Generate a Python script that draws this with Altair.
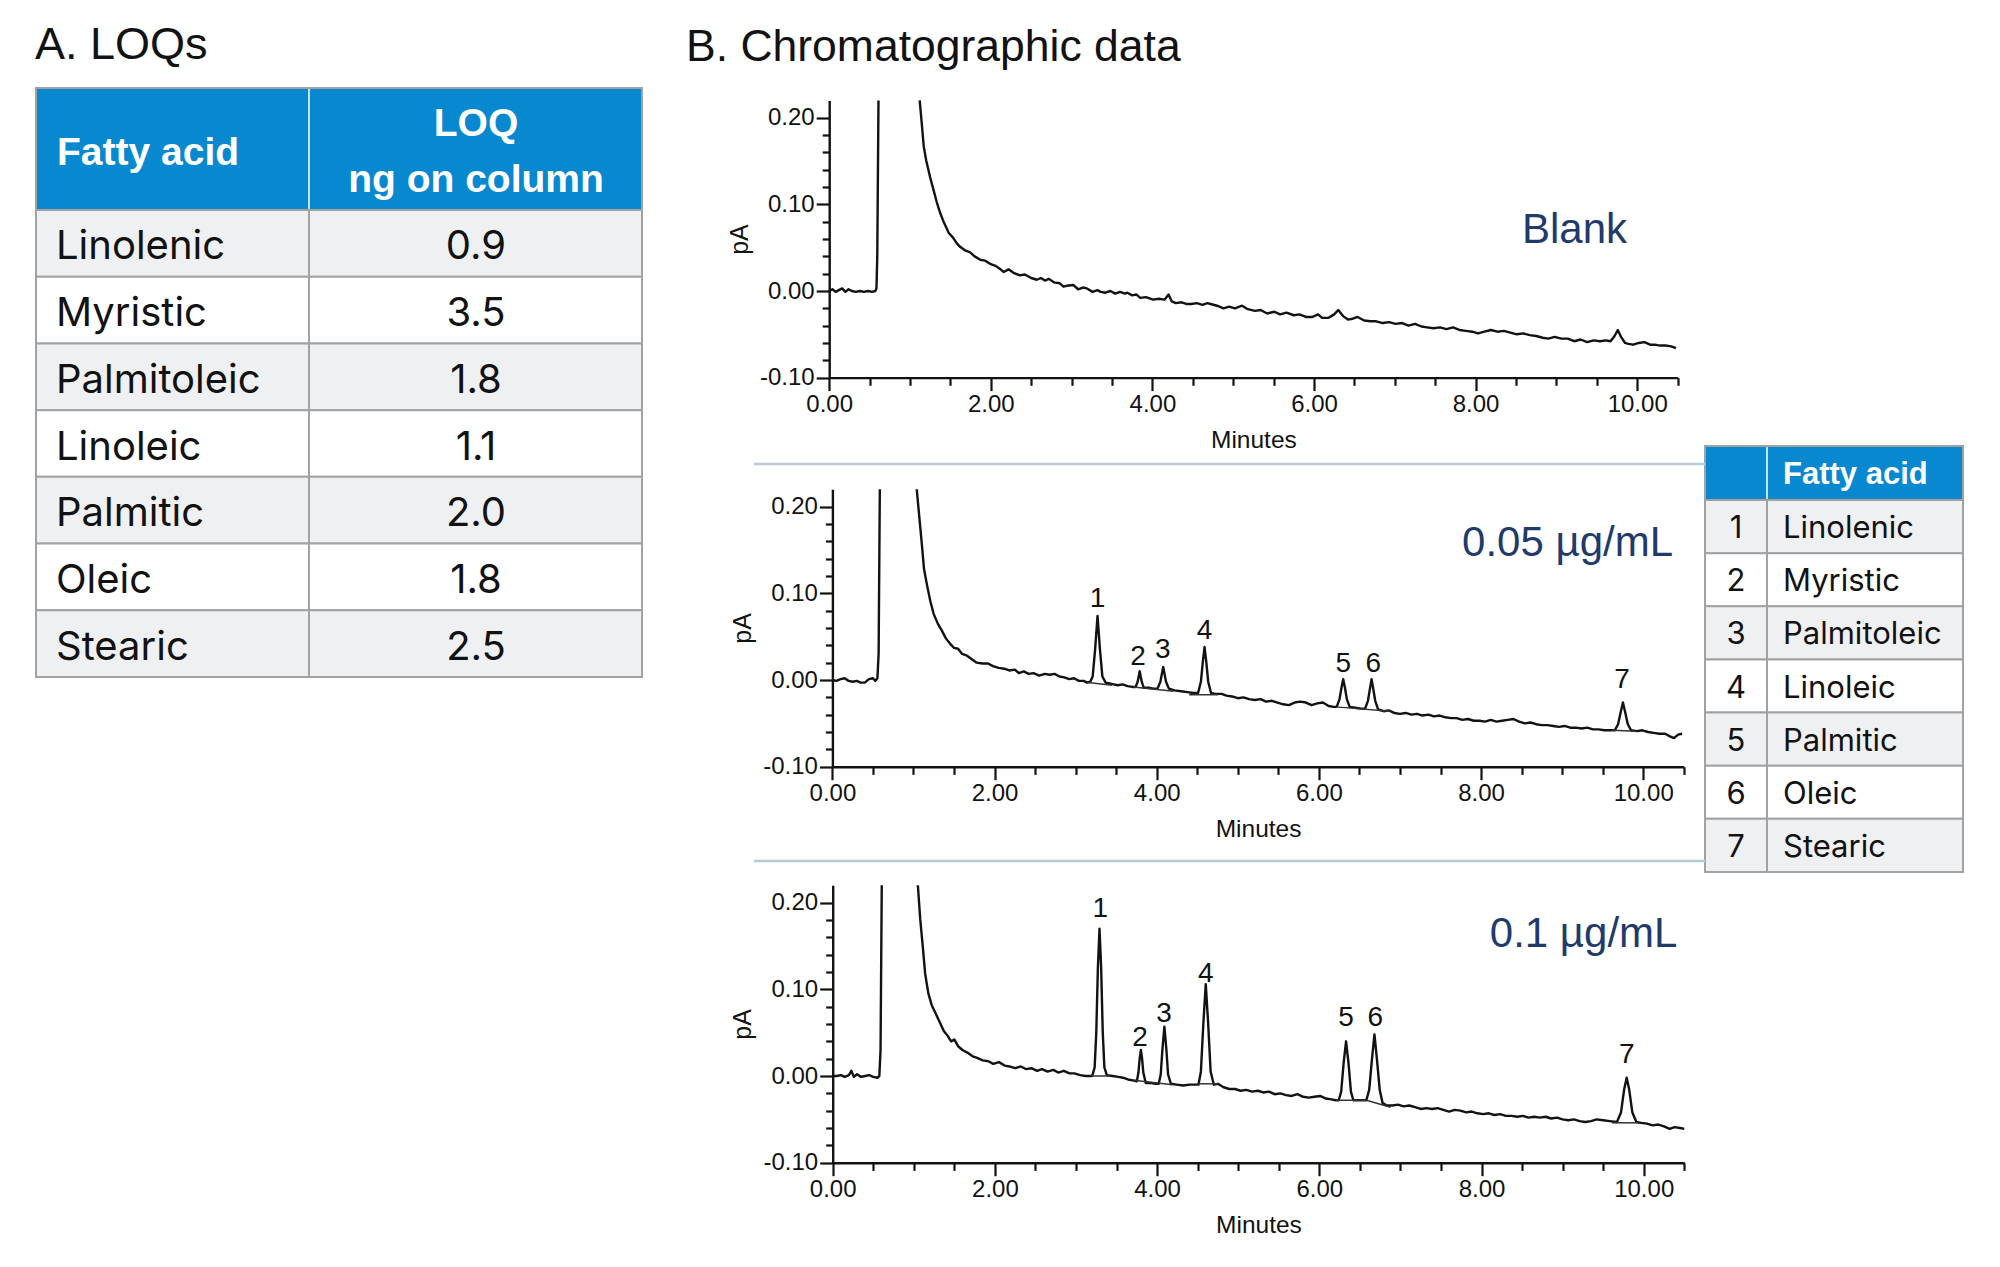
import altair as alt
import pandas as pd

W, H = 2000, 1267

# ------------------------------------------------------------------ data
panel_titles = ["A. LOQs", "B. Chromatographic data"]
fatty_acids = ["Linolenic", "Myristic", "Palmitoleic", "Linoleic", "Palmitic", "Oleic", "Stearic"]
loq_ng = [0.9, 3.5, 1.8, 1.1, 2.0, 1.8, 2.5]
peak_ids = [1, 2, 3, 4, 5, 6, 7]
header_a = ["Fatty acid", "LOQ", "ng on column"]
header_legend = ["Fatty acid"]
sample_names = ["Blank", "0.05 µg/mL", "0.1 µg/mL"]

x_major = [0, 2, 4, 6, 8, 10]
x_minor = [0.5, 1, 1.5, 2.5, 3, 3.5, 4.5, 5, 5.5, 6.5, 7, 7.5, 8.5, 9, 9.5, 10.5]
y_major = [-0.10, 0.00, 0.10, 0.20]
y_minor = [-0.08, -0.06, -0.04, -0.02, 0.02, 0.04, 0.06, 0.08, 0.12, 0.14, 0.16, 0.18]

# traces (minutes, pA): before the solvent front and after it
blank_before = [(0.00, 0.000), (0.04, 0.002), (0.08, -0.001), (0.12, 0.001), (0.16, 0.003), (0.20, -0.001),
                (0.24, 0.002), (0.28, 0.000), (0.33, -0.001), (0.38, 0.000), (0.43, -0.001), (0.48, 0.000),
                (0.53, -0.001), (0.57, 0.000), (0.585, 0.003), (0.595, 0.040), (0.61, 0.220)]
blank_after = [(1.12, 0.220), (1.145, 0.194), (1.17, 0.167), (1.20, 0.151), (1.25, 0.131), (1.29, 0.117),
               (1.33, 0.103), (1.37, 0.091), (1.42, 0.079), (1.48, 0.067), (1.53, 0.062), (1.58, 0.055),
               (1.62, 0.051), (1.68, 0.047), (1.74, 0.045), (1.80, 0.040), (1.87, 0.036), (1.93, 0.035),
               (2.00, 0.031), (2.06, 0.029), (2.12, 0.025), (2.16, 0.022), (2.22, 0.025), (2.28, 0.021),
               (2.36, 0.018), (2.42, 0.019), (2.50, 0.015), (2.57, 0.013), (2.62, 0.015), (2.67, 0.012),
               (2.72, 0.014), (2.78, 0.010), (2.85, 0.009), (2.90, 0.005), (2.94, 0.006), (3.02, 0.007),
               (3.08, 0.002), (3.14, 0.004), (3.19, 0.003), (3.26, -0.001), (3.32, 0.001), (3.36, -0.001),
               (3.42, -0.002), (3.48, 0.000), (3.54, -0.003), (3.60, -0.001), (3.66, -0.003), (3.69, -0.002),
               (3.75, -0.005), (3.80, -0.004), (3.85, -0.008), (3.92, -0.007), (4.01, -0.010), (4.08, -0.009),
               (4.15, -0.010), (4.20, -0.004), (4.24, -0.012), (4.29, -0.014), (4.36, -0.013), (4.42, -0.015),
               (4.48, -0.015), (4.55, -0.014), (4.62, -0.016), (4.68, -0.014), (4.72, -0.015), (4.80, -0.017),
               (4.88, -0.020), (4.95, -0.018), (5.02, -0.020), (5.11, -0.017), (5.18, -0.021), (5.27, -0.023),
               (5.34, -0.022), (5.42, -0.026), (5.51, -0.024), (5.58, -0.027), (5.66, -0.025), (5.75, -0.028),
               (5.82, -0.027), (5.90, -0.030), (5.98, -0.030), (6.05, -0.027), (6.10, -0.031), (6.18, -0.031),
               (6.25, -0.027), (6.30, -0.022), (6.36, -0.029), (6.42, -0.033), (6.48, -0.032), (6.54, -0.030),
               (6.62, -0.034), (6.70, -0.035), (6.77, -0.035), (6.85, -0.037), (6.93, -0.036), (7.01, -0.038),
               (7.09, -0.037), (7.17, -0.040), (7.25, -0.038), (7.33, -0.041), (7.40, -0.042), (7.48, -0.043),
               (7.56, -0.042), (7.64, -0.044), (7.72, -0.042), (7.80, -0.045), (7.88, -0.046), (7.96, -0.047),
               (8.03, -0.049), (8.11, -0.047), (8.19, -0.045), (8.27, -0.047), (8.35, -0.046), (8.43, -0.048),
               (8.51, -0.050), (8.59, -0.049), (8.67, -0.051), (8.75, -0.052), (8.83, -0.054), (8.90, -0.055),
               (8.98, -0.053), (9.06, -0.055), (9.14, -0.055), (9.22, -0.058), (9.30, -0.056), (9.38, -0.059),
               (9.46, -0.057), (9.54, -0.058), (9.61, -0.057), (9.67, -0.058), (9.72, -0.052), (9.76, -0.045),
               (9.80, -0.053), (9.85, -0.060), (9.89, -0.061), (9.95, -0.062), (10.02, -0.060), (10.09, -0.059),
               (10.16, -0.062), (10.22, -0.062), (10.28, -0.063), (10.35, -0.063), (10.42, -0.064), (10.48, -0.066)]

low_before = [(0.00, 0.000), (0.05, -0.001), (0.10, 0.001), (0.15, 0.002), (0.20, -0.001), (0.25, -0.002),
              (0.30, -0.001), (0.35, -0.003), (0.40, -0.003), (0.45, 0.001), (0.50, 0.002), (0.53, -0.001),
              (0.555, 0.002), (0.57, 0.030), (0.585, 0.220)]
low_after = [(1.04, 0.220), (1.07, 0.190), (1.10, 0.160), (1.13, 0.128), (1.17, 0.108), (1.21, 0.090),
             (1.25, 0.076), (1.30, 0.065), (1.35, 0.057), (1.40, 0.048), (1.45, 0.042), (1.50, 0.037),
             (1.55, 0.036), (1.60, 0.030), (1.66, 0.028), (1.72, 0.024), (1.78, 0.020), (1.85, 0.019),
             (1.92, 0.019), (1.98, 0.016), (2.05, 0.014), (2.12, 0.013), (2.18, 0.011), (2.25, 0.012),
             (2.30, 0.008), (2.36, 0.010), (2.42, 0.007), (2.48, 0.008), (2.55, 0.005), (2.62, 0.007),
             (2.68, 0.006), (2.74, 0.007), (2.80, 0.004), (2.86, 0.003), (2.92, 0.001), (2.98, 0.002),
             (3.04, -0.001), (3.10, -0.001), (3.14, -0.003),
             (3.18, -0.002), (3.21, 0.004), (3.24, 0.035), (3.27, 0.074), (3.30, 0.035), (3.33, 0.004),
             (3.37, -0.003), (3.42, -0.004), (3.47, -0.005), (3.52, -0.006), (3.58, -0.005), (3.64, -0.007),
             (3.70, -0.008), (3.74, -0.008), (3.765, -0.002), (3.79, 0.010), (3.815, -0.002), (3.84, -0.009),
             (3.90, -0.009), (3.96, -0.010), (4.01, -0.010), (4.045, -0.002), (4.08, 0.015), (4.115, -0.002),
             (4.15, -0.010), (4.22, -0.012), (4.30, -0.013), (4.38, -0.014), (4.45, -0.015), (4.51, -0.015),
             (4.545, -0.002), (4.57, 0.022), (4.59, 0.038), (4.61, 0.022), (4.635, -0.002), (4.67, -0.015),
             (4.72, -0.016), (4.80, -0.016), (4.86, -0.018), (4.93, -0.019), (5.00, -0.021), (5.07, -0.020),
             (5.14, -0.022), (5.21, -0.023), (5.28, -0.022), (5.35, -0.025), (5.42, -0.024), (5.49, -0.026),
             (5.56, -0.028), (5.63, -0.029), (5.70, -0.026), (5.77, -0.025), (5.84, -0.026), (5.91, -0.029),
             (5.98, -0.027), (6.05, -0.026), (6.12, -0.030), (6.18, -0.031), (6.22, -0.031), (6.255, -0.022),
             (6.28, -0.008), (6.30, 0.001), (6.32, -0.008), (6.345, -0.022), (6.38, -0.031), (6.45, -0.032),
             (6.52, -0.033), (6.57, -0.033), (6.605, -0.024), (6.63, -0.010), (6.65, 0.001), (6.67, -0.010),
             (6.695, -0.024), (6.73, -0.034), (6.80, -0.036), (6.86, -0.035), (6.93, -0.038), (7.00, -0.039),
             (7.07, -0.038), (7.14, -0.040), (7.21, -0.039), (7.28, -0.041), (7.35, -0.040), (7.42, -0.042),
             (7.49, -0.041), (7.56, -0.043), (7.63, -0.044), (7.70, -0.044), (7.77, -0.046), (7.84, -0.045),
             (7.91, -0.047), (7.98, -0.047), (8.05, -0.048), (8.12, -0.046), (8.19, -0.048), (8.26, -0.047),
             (8.33, -0.046), (8.40, -0.045), (8.47, -0.048), (8.54, -0.050), (8.61, -0.049), (8.68, -0.051),
             (8.75, -0.052), (8.82, -0.052), (8.89, -0.053), (8.96, -0.054), (9.03, -0.053), (9.10, -0.055),
             (9.17, -0.055), (9.24, -0.056), (9.31, -0.055), (9.38, -0.057), (9.45, -0.057), (9.52, -0.058),
             (9.60, -0.058), (9.65, -0.058), (9.69, -0.051), (9.725, -0.036), (9.75, -0.026), (9.775, -0.036),
             (9.81, -0.051), (9.85, -0.058), (9.92, -0.059), (9.99, -0.058), (10.06, -0.060), (10.13, -0.061),
             (10.20, -0.062), (10.27, -0.062), (10.33, -0.065), (10.38, -0.067), (10.43, -0.063), (10.48, -0.062)]

high_before = [(0.00, 0.000), (0.05, 0.000), (0.10, 0.001), (0.15, -0.001), (0.20, 0.001), (0.23, 0.006),
               (0.26, -0.001), (0.30, 0.002), (0.35, -0.001), (0.40, 0.000), (0.45, 0.001), (0.50, -0.001),
               (0.55, -0.002), (0.575, 0.000), (0.59, 0.030), (0.605, 0.220)]
high_after = [(1.05, 0.220), (1.08, 0.180), (1.11, 0.150), (1.14, 0.118), (1.18, 0.095), (1.22, 0.082),
              (1.27, 0.072), (1.32, 0.062), (1.37, 0.052), (1.42, 0.046), (1.46, 0.040), (1.50, 0.042),
              (1.55, 0.034), (1.60, 0.030), (1.66, 0.027), (1.72, 0.023), (1.78, 0.021), (1.85, 0.018),
              (1.92, 0.017), (1.98, 0.014), (2.05, 0.016), (2.12, 0.012), (2.18, 0.011), (2.25, 0.009),
              (2.32, 0.011), (2.38, 0.008), (2.45, 0.009), (2.52, 0.006), (2.58, 0.008), (2.65, 0.005),
              (2.72, 0.007), (2.78, 0.004), (2.85, 0.006), (2.92, 0.003), (2.98, 0.003), (3.05, 0.001),
              (3.12, 0.000), (3.16, 0.000), (3.20, 0.000), (3.23, 0.010), (3.25, 0.050), (3.27, 0.125),
              (3.29, 0.170), (3.31, 0.125), (3.33, 0.050), (3.35, 0.010), (3.38, 0.001), (3.45, 0.000),
              (3.52, -0.001), (3.58, -0.002), (3.64, -0.004), (3.70, -0.005), (3.75, -0.006), (3.77, 0.004),
              (3.785, 0.020), (3.80, 0.030), (3.815, 0.020), (3.83, 0.004), (3.86, -0.008), (3.92, -0.008),
              (3.98, -0.009), (4.02, -0.009), (4.045, 0.002), (4.065, 0.030), (4.09, 0.057), (4.115, 0.030),
              (4.135, 0.002), (4.17, -0.009), (4.24, -0.010), (4.32, -0.011), (4.40, -0.010), (4.46, -0.010),
              (4.51, -0.010), (4.54, 0.005), (4.57, 0.060), (4.60, 0.106), (4.63, 0.060), (4.66, 0.005),
              (4.70, -0.010), (4.75, -0.009), (4.82, -0.013), (4.89, -0.015), (4.96, -0.015), (5.03, -0.017),
              (5.10, -0.016), (5.17, -0.018), (5.24, -0.017), (5.31, -0.019), (5.38, -0.018), (5.45, -0.021),
              (5.52, -0.020), (5.59, -0.022), (5.66, -0.023), (5.73, -0.021), (5.80, -0.024), (5.87, -0.025),
              (5.94, -0.024), (6.01, -0.023), (6.08, -0.026), (6.15, -0.027), (6.20, -0.028), (6.24, -0.028),
              (6.27, -0.018), (6.30, 0.015), (6.33, 0.040), (6.36, 0.015), (6.39, -0.018), (6.42, -0.028),
              (6.48, -0.028), (6.54, -0.028), (6.58, -0.028), (6.615, -0.016), (6.65, 0.020), (6.68, 0.048),
              (6.71, 0.020), (6.745, -0.016), (6.78, -0.031), (6.83, -0.034), (6.90, -0.034), (6.97, -0.033),
              (7.04, -0.035), (7.11, -0.034), (7.18, -0.036), (7.25, -0.038), (7.32, -0.037), (7.39, -0.038),
              (7.46, -0.037), (7.53, -0.039), (7.60, -0.041), (7.67, -0.039), (7.74, -0.040), (7.81, -0.042),
              (7.88, -0.041), (7.95, -0.043), (8.02, -0.044), (8.09, -0.043), (8.16, -0.045), (8.23, -0.044),
              (8.30, -0.046), (8.37, -0.046), (8.44, -0.047), (8.51, -0.046), (8.58, -0.048), (8.65, -0.047),
              (8.72, -0.048), (8.79, -0.047), (8.86, -0.049), (8.93, -0.048), (9.00, -0.050), (9.07, -0.051),
              (9.14, -0.050), (9.21, -0.052), (9.28, -0.053), (9.35, -0.052), (9.42, -0.050), (9.50, -0.051),
              (9.58, -0.052), (9.67, -0.053), (9.72, -0.042), (9.76, -0.015), (9.79, -0.002), (9.82, -0.015),
              (9.86, -0.042), (9.91, -0.053), (9.97, -0.054), (10.04, -0.055), (10.11, -0.057), (10.18, -0.056),
              (10.25, -0.058), (10.32, -0.061), (10.38, -0.059), (10.45, -0.060), (10.50, -0.061)]

# integration baselines drawn under the peaks: (t start, pA start, t end, pA end)
low_baselines = [(3.15, -0.003, 3.45, -0.006), (3.71, -0.008, 4.21, -0.013), (4.40, -0.017, 4.76, -0.017),
                 (6.21, -0.031, 6.88, -0.036), (9.61, -0.058, 9.92, -0.059)]
high_baselines = [(3.19, 0.000, 3.42, 0.000), (3.71, -0.005, 4.19, -0.010), (4.49, -0.009, 4.75, -0.009),
                  (6.21, -0.028, 6.58, -0.028), (6.58, -0.028, 6.88, -0.036), (9.61, -0.054, 9.94, -0.054)]

# peak number labels (minutes, pA)
low_label_t = [3.27, 3.77, 4.075, 4.59, 6.30, 6.67, 9.74]
low_label_v = [0.094, 0.027, 0.035, 0.057, 0.019, 0.019, 0.000]
high_label_t = [3.30, 3.79, 4.085, 4.60, 6.33, 6.69, 9.79]
high_label_v = [0.193, 0.0435, 0.072, 0.118, 0.0665, 0.0665, 0.024]

# sample name anchors (minutes, pA), right aligned
sample_label_t = [9.874, 10.368, 10.416]
sample_label_v = [0.0551, 0.1430, 0.1491]

# ------------------------------------------------------------------ styles / layout
INK = "#121212"
NAVY = "#1f3a6b"
BLUE = "#0888cf"
ROW_GRAY = "#eff0f2"
BORDER = "#a2a2a2"
HEAD_SEP = "#c4e5f8"
SEP = "#b9c9d8"
AX_FONT = "Liberation Sans"
BODY_FONT = "Inter"

GEOM = [
    dict(x0=829.2, ppm=80.8, y0=291.0, ppv=866.0),
    dict(x0=832.4, ppm=81.08, y0=680.0, ppv=867.0),
    dict(x0=832.7, ppm=81.1, y0=1076.0, ppv=867.0),
]

one = pd.DataFrame({"k": [0]})
layers = []

# ------------------------------------------------------------------ panel titles
layers.append(alt.Chart(pd.DataFrame({"s": [panel_titles[0]]})).mark_text(
    font=AX_FONT, fontSize=45, color=INK, align="left", baseline="alphabetic"
).encode(x=alt.value(35), y=alt.value(59), text="s:N"))
layers.append(alt.Chart(pd.DataFrame({"s": [panel_titles[1]]})).mark_text(
    font=AX_FONT, fontSize=44.5, color=INK, align="left", baseline="alphabetic"
).encode(x=alt.value(686), y=alt.value(61), text="s:N"))


# ------------------------------------------------------------------ tables
def table(df, key, left, mid, right, top, head_bot, bot, c1_text, c2_text, font_size, dy,
          c1_x, c1_align, c2_x, c2_align):
    out = []
    sc = alt.Scale(type="band", domain=list(df[key]), range=[head_bot, bot], paddingInner=0, paddingOuter=0)
    yy = alt.Y(f"{key}:N", scale=sc, axis=None)
    shade = alt.condition("datum.idx % 2 == 0", alt.value(ROW_GRAY), alt.value("white"))
    out.append(alt.Chart(df).mark_rect(stroke=BORDER, strokeWidth=2).encode(
        x=alt.value(left), x2=alt.value(mid), y=yy, fill=shade))
    out.append(alt.Chart(df).mark_rect(stroke=BORDER, strokeWidth=2).encode(
        x=alt.value(mid), x2=alt.value(right), y=yy, fill=shade))
    out.append(alt.Chart(one).mark_rect(fill=BLUE, stroke=BORDER, strokeWidth=2).encode(
        x=alt.value(left), x2=alt.value(right), y=alt.value(top), y2=alt.value(head_bot)))
    out.append(alt.Chart(one).mark_rule(color=HEAD_SEP, strokeWidth=2).encode(
        x=alt.value(mid), y=alt.value(top + 1), y2=alt.value(head_bot - 1)))
    out.append(alt.Chart(df).mark_text(font=BODY_FONT, fontSize=font_size, color=INK, align=c1_align,
                                       baseline="alphabetic", dy=dy).encode(
        x=alt.value(c1_x), y=yy, text=c1_text))
    out.append(alt.Chart(df).mark_text(font=BODY_FONT, fontSize=font_size, color=INK, align=c2_align,
                                       baseline="alphabetic", dy=dy).encode(
        x=alt.value(c2_x), y=yy, text=c2_text))
    return out


tA = pd.DataFrame({"acid": fatty_acids, "loq": loq_ng, "idx": list(range(len(fatty_acids)))})
layers += table(tA, "acid", 36, 309, 642, 88, 210, 677,
                alt.Text("acid:N"), alt.Text("loq:Q", format=".1f"), 40, 16,
                56, "left", 476, "center")
for txt, xx, yy, al in [(header_a[0], 57, 165, "left"), (header_a[1], 476, 136, "center"),
                        (header_a[2], 476, 192, "center")]:
    layers.append(alt.Chart(pd.DataFrame({"s": [txt]})).mark_text(
        font=AX_FONT, fontSize=39, fontWeight="bold", color="white", align=al, baseline="alphabetic"
    ).encode(x=alt.value(xx), y=alt.value(yy), text="s:N"))

tL = pd.DataFrame({"num": [str(p) for p in peak_ids], "acid": fatty_acids, "idx": list(range(len(peak_ids)))})
layers += table(tL, "num", 1705, 1767, 1963, 446, 500, 872,
                alt.Text("num:N"), alt.Text("acid:N"), 31, 11.5,
                1736, "center", 1783, "left")
layers.append(alt.Chart(pd.DataFrame({"s": header_legend})).mark_text(
    font=AX_FONT, fontSize=31, fontWeight="bold", color="white", align="left", baseline="alphabetic"
).encode(x=alt.value(1783), y=alt.value(484), text="s:N"))

# separators between chromatograms
for ysep in (464, 861):
    layers.append(alt.Chart(one).mark_rule(color=SEP, strokeWidth=2.5).encode(
        x=alt.value(754), x2=alt.value(1705), y=alt.value(ysep)))


# ------------------------------------------------------------------ chromatograms
def chromatogram(before, after, g, name, name_t, name_v, labels=None, baselines=None):
    out = []
    x_lo = g["x0"]
    x_hi = g["x0"] + 10.5 * g["ppm"]
    y_bot = g["y0"] + 0.10 * g["ppv"]
    y_top = g["y0"] - 0.22 * g["ppv"]
    xs = alt.Scale(domain=[0, 10.5], range=[x_lo, x_hi], nice=False, zero=False)
    ys = alt.Scale(domain=[-0.10, 0.22], range=[y_bot, y_top], nice=False, zero=False)
    df = pd.DataFrame({
        "t": [p[0] for p in before] + [p[0] for p in after],
        "v": [p[1] for p in before] + [p[1] for p in after],
        "seg": ["a"] * len(before) + ["b"] * len(after),
    })
    common = dict(tickColor=INK, tickWidth=2.2, domainColor=INK, domainWidth=2.4, grid=False,
                  labelFont=AX_FONT, labelColor=INK, titleFont=AX_FONT, titleColor=INK,
                  titleFontWeight="normal")
    ax_x = alt.Axis(orient="bottom", offset=y_bot - H, values=x_major, format=".2f", tickSize=13,
                    labelFontSize=24, labelPadding=2, labelFlush=False, labelOverlap=False,
                    title="Minutes", titleFontSize=24.5, titleX=(x_lo + x_hi) / 2, titleY=70,
                    titleAlign="center", titleBaseline="alphabetic", **common)
    ax_y = alt.Axis(orient="left", offset=-x_lo, values=y_major, tickSize=13,
                    labelExpr="datum.value < 0 ? '-' + format(-datum.value, '.2f') : format(datum.value, '.2f')",
                    labelFontSize=24, labelPadding=2, labelOverlap=False,
                    title="pA", titleFontSize=25, titleAngle=270, titleX=-82, titleY=(y_bot + y_top) / 2,
                    titleAlign="center", titleBaseline="alphabetic", **common)
    out.append(alt.Chart(df).mark_line(color=INK, strokeWidth=2.4, strokeJoin="round").encode(
        x=alt.X("t:Q", scale=xs, axis=ax_x), y=alt.Y("v:Q", scale=ys, axis=ax_y), detail="seg:N"))
    # minor ticks
    mx = alt.Axis(orient="bottom", offset=y_bot - H, values=x_minor, tickSize=7.7, tickColor=INK, tickWidth=2.2,
                  labels=False, domain=False, grid=False, title="")
    my = alt.Axis(orient="left", offset=-x_lo, values=y_minor, tickSize=7, tickColor=INK, tickWidth=2.2,
                  labels=False, domain=False, grid=False, title="")
    out.append(alt.Chart(df).mark_line(strokeOpacity=0).encode(
        x=alt.X("t:Q", scale=xs, axis=mx), y=alt.Y("v:Q", scale=ys, axis=my), detail="seg:N"))
    if baselines:
        bdf = pd.DataFrame(baselines, columns=["t1", "v1", "t2", "v2"])
        out.append(alt.Chart(bdf).mark_rule(color="#333333", strokeWidth=1.5).encode(
            x=alt.X("t1:Q", scale=xs, axis=None), x2="t2:Q",
            y=alt.Y("v1:Q", scale=ys, axis=None), y2="v2:Q"))
    if labels:
        ldf = pd.DataFrame({"n": [str(p) for p in peak_ids], "t": labels[0], "v": labels[1]})
        out.append(alt.Chart(ldf).mark_text(font=AX_FONT, fontSize=28, color=INK, align="center",
                                            baseline="middle").encode(
            x=alt.X("t:Q", scale=xs, axis=None), y=alt.Y("v:Q", scale=ys, axis=None), text="n:N"))
    ndf = pd.DataFrame({"s": [name], "t": [name_t], "v": [name_v]})
    out.append(alt.Chart(ndf).mark_text(font=AX_FONT, fontSize=42, color=NAVY, align="right",
                                        baseline="alphabetic").encode(
        x=alt.X("t:Q", scale=xs, axis=None), y=alt.Y("v:Q", scale=ys, axis=None), text="s:N"))
    return out


layers += chromatogram(blank_before, blank_after, GEOM[0], sample_names[0], sample_label_t[0], sample_label_v[0])
layers += chromatogram(low_before, low_after, GEOM[1], sample_names[1], sample_label_t[1], sample_label_v[1],
                       labels=(low_label_t, low_label_v), baselines=low_baselines)
layers += chromatogram(high_before, high_after, GEOM[2], sample_names[2], sample_label_t[2], sample_label_v[2],
                       labels=(high_label_t, high_label_v), baselines=high_baselines)

chart = alt.layer(*layers).resolve_scale(
    x="independent", y="independent"
).resolve_axis(
    x="independent", y="independent"
).properties(
    width=W, height=H, padding=0, background="white",
    autosize=alt.AutoSizeParams(type="none"),
).configure_view(stroke=None)

chart.save("out.html", embed_options={"renderer": "svg", "actions": False})
